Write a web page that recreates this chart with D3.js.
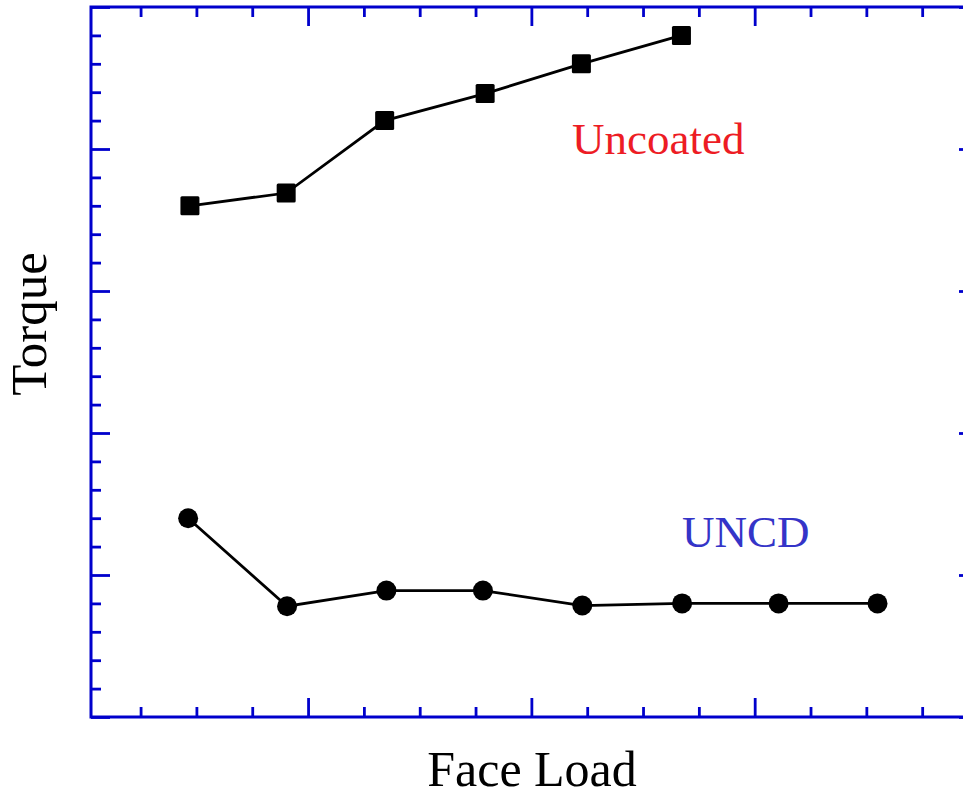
<!DOCTYPE html>
<html>
<head>
<meta charset="utf-8">
<script src="https://cdn.jsdelivr.net/npm/d3@7"></script>
<style>
  html, body { margin: 0; padding: 0; background: #fff; overflow: hidden; }
  svg { display: block; }
  text { font-family: "Liberation Serif", "Times New Roman", serif; }
</style>
</head>
<body>
<svg id="chart" width="963" height="792"></svg>
<script>
// ---- data (arbitrary units) ----
const uncoatedLoad = [4.71, 9.02, 13.43, 17.93, 22.24, 26.72];
const uncoatedTorque = [3.60, 3.69, 4.20, 4.39, 4.60, 4.80];
const uncdLoad = [4.63, 9.06, 13.51, 17.83, 22.28, 26.75, 31.07, 35.50];
const uncdTorque = [1.40, 0.78, 0.89, 0.89, 0.785, 0.80, 0.80, 0.80];
const xMajorTicks = [10, 20, 30, 40];
const xMinorTicks = [2.5, 5, 7.5, 12.5, 15, 17.5, 22.5, 25, 27.5, 32.5, 35, 37.5];
const yMajorTicks = [0, 1, 2, 3, 4, 5];
const yMinorTicks = [0.2, 0.4, 0.6, 0.8, 1.2, 1.4, 1.6, 1.8, 2.2, 2.4, 2.6, 2.8,
                     3.2, 3.4, 3.6, 3.8, 4.2, 4.4, 4.6, 4.8];
const labels = { x: "Face Load", y: "Torque", s1: "Uncoated", s2: "UNCD" };

// ---- layout ----
const plotL = 91, plotR = 978, plotT = 7, plotB = 717;
const axisColor = "#0000cc";
const svg = d3.select("#chart");

const x = d3.scaleLinear().domain([0.28, 40]).range([plotL, plotR]);
const y = d3.scaleLinear().domain([0, 5]).range([plotB, plotT]);

function styleAxis(g) {
  g.select(".domain").remove();
  g.selectAll(".tick line").attr("stroke", axisColor).attr("stroke-width", 2.8);
  g.selectAll(".tick text").remove();
}

// bottom
svg.append("g").attr("transform", `translate(0,${plotB})`)
  .call(d3.axisBottom(x).tickValues(xMajorTicks).tickSize(-19).tickFormat("")).call(styleAxis);
svg.append("g").attr("transform", `translate(0,${plotB})`)
  .call(d3.axisBottom(x).tickValues(xMinorTicks).tickSize(-10).tickFormat("")).call(styleAxis);
// top
svg.append("g").attr("transform", `translate(0,${plotT})`)
  .call(d3.axisTop(x).tickValues(xMajorTicks).tickSize(-19).tickFormat("")).call(styleAxis);
svg.append("g").attr("transform", `translate(0,${plotT})`)
  .call(d3.axisTop(x).tickValues(xMinorTicks).tickSize(-10).tickFormat("")).call(styleAxis);
// left
svg.append("g").attr("transform", `translate(${plotL},0)`)
  .call(d3.axisLeft(y).tickValues(yMajorTicks).tickSize(-19).tickFormat("")).call(styleAxis);
svg.append("g").attr("transform", `translate(${plotL},0)`)
  .call(d3.axisLeft(y).tickValues(yMinorTicks).tickSize(-10).tickFormat("")).call(styleAxis);
// right
svg.append("g").attr("transform", `translate(${plotR},0)`)
  .call(d3.axisRight(y).tickValues(yMajorTicks).tickSize(-19).tickFormat("")).call(styleAxis);
svg.append("g").attr("transform", `translate(${plotR},0)`)
  .call(d3.axisRight(y).tickValues(yMinorTicks).tickSize(-10).tickFormat("")).call(styleAxis);

// frame
svg.append("rect")
  .attr("x", plotL).attr("y", plotT)
  .attr("width", plotR - plotL).attr("height", plotB - plotT)
  .attr("fill", "none").attr("stroke", axisColor).attr("stroke-width", 3);

// ---- series ----
const line = d3.line().x(d => x(d[0])).y(d => y(d[1]));
const s1 = d3.zip(uncoatedLoad, uncoatedTorque);
const s2 = d3.zip(uncdLoad, uncdTorque);

svg.append("path").datum(s1).attr("d", line)
  .attr("fill", "none").attr("stroke", "#000").attr("stroke-width", 2.8);
svg.append("path").datum(s2).attr("d", line)
  .attr("fill", "none").attr("stroke", "#000").attr("stroke-width", 2.8);

const sq = 19;
svg.selectAll("rect.sq").data(s1).enter().append("rect").attr("class", "sq")
  .attr("x", d => x(d[0]) - sq / 2).attr("y", d => y(d[1]) - sq / 2)
  .attr("width", sq).attr("height", sq).attr("rx", 1.5).attr("fill", "#000");

svg.selectAll("circle.pt").data(s2).enter().append("circle").attr("class", "pt")
  .attr("cx", d => x(d[0])).attr("cy", d => y(d[1]))
  .attr("r", 10).attr("fill", "#000");

// ---- labels ----
svg.append("text").attr("x", 572).attr("y", 154)
  .attr("font-size", 45).attr("fill", "#ed1c24").text(labels.s1);
svg.append("text").attr("x", 682).attr("y", 547)
  .attr("font-size", 45).attr("fill", "#3434c8").text(labels.s2);
svg.append("text").attr("x", 532).attr("y", 786).attr("text-anchor", "middle")
  .attr("font-size", 50).attr("fill", "#000").text(labels.x);
svg.append("text").attr("transform", "translate(46,324) rotate(-90)")
  .attr("text-anchor", "middle").attr("font-size", 51).attr("fill", "#000").text(labels.y);
</script>
</body>
</html>
